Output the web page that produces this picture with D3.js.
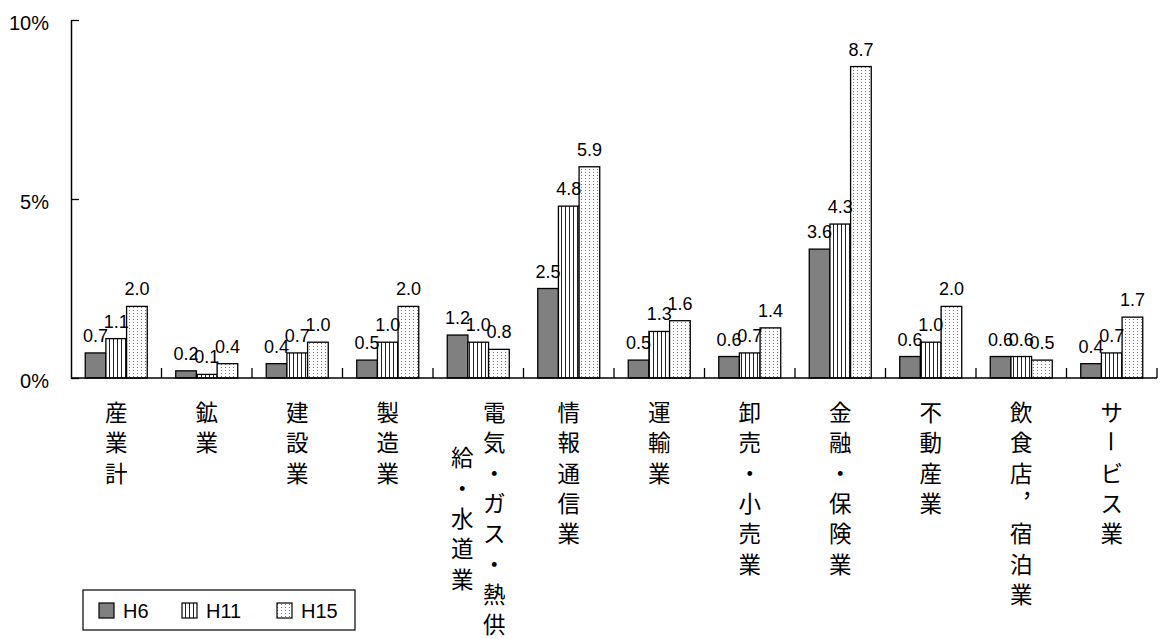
<!DOCTYPE html>
<meta charset="utf-8">
<head>
    <script type="text/javascript" src="https://d3js.org/d3.v7.min.js"></script>
    <style>
        body { margin: 0; background: white; }
        .num { font-family: "Liberation Sans", Arial, sans-serif; }
        .cat { font-family: "Noto Sans CJK JP", sans-serif; }
    </style>
    <title></title>
</head>
<body>
<script>

    var width = 1168
    var height = 639

    // data
    var categories = ["産業計", "鉱業", "建設業", "製造業", "電気・ガス・熱供給・水道業", "情報通信業",
        "運輸業", "卸売・小売業", "金融・保険業", "不動産業", "飲食店，宿泊業", "サービス業"]
    var series = ["H6", "H11", "H15"]
    var h6 = [0.7, 0.2, 0.4, 0.5, 1.2, 2.5, 0.5, 0.6, 3.6, 0.6, 0.6, 0.4]
    var h11 = [1.1, 0.1, 0.7, 1.0, 1.0, 4.8, 1.3, 0.7, 4.3, 1.0, 0.6, 0.7]
    var h15 = [2.0, 0.4, 1.0, 2.0, 0.8, 5.9, 1.6, 1.4, 8.7, 2.0, 0.5, 1.7]
    var yTicks = [0, 5, 10]

    var values = [h6, h11, h15]
    var fills = ["#808080", "url(#stripes)", "url(#dots)"]

    var svg = d3.select("body").append("svg")
        .attr("width", width)
        .attr("height", height)

    var defs = svg.append("defs")
    var stripes = defs.append("pattern")
        .attr("id", "stripes")
        .attr("patternUnits", "userSpaceOnUse")
        .attr("width", 4).attr("height", 4)
    stripes.append("rect").attr("width", 4).attr("height", 4).attr("fill", "white")
    stripes.append("rect").attr("x", 1).attr("width", 1).attr("height", 4).attr("fill", "#222")

    var dots = defs.append("pattern")
        .attr("id", "dots")
        .attr("patternUnits", "userSpaceOnUse")
        .attr("width", 4).attr("height", 3)
    dots.append("rect").attr("width", 4).attr("height", 3).attr("fill", "white")
    dots.append("rect").attr("x", 1).attr("y", 1).attr("width", 1).attr("height", 1).attr("fill", "#777")

    var x0 = d3.scaleBand()
        .domain(categories)
        .range([71, 1157])

    var groupWidth = 62
    var x1 = d3.scaleBand()
        .domain(series)
        .range([0, groupWidth])

    var y = d3.scaleLinear()
        .domain([0, 10])
        .range([378, 20])

    // bars
    var rows = []
    categories.forEach(function (c, i) {
        series.forEach(function (s, j) {
            rows.push({cat: c, s: s, j: j, v: values[j][i]})
        })
    })

    var offset = (x0.bandwidth() - groupWidth) / 2

    svg.append("g").selectAll("rect")
        .data(rows)
        .enter()
        .append("rect")
        .attr("x", d => x0(d.cat) + offset + x1(d.s))
        .attr("y", d => y(d.v))
        .attr("width", x1.bandwidth())
        .attr("height", d => y(0) - y(d.v))
        .attr("fill", d => fills[d.j])
        .attr("stroke", "black")
        .attr("stroke-width", 1.3)

    // data labels
    svg.append("g").selectAll("text")
        .data(rows)
        .enter()
        .append("text")
        .attr("class", "num")
        .attr("x", d => x0(d.cat) + offset + x1(d.s) + x1.bandwidth() / 2)
        .attr("y", d => y(d.v) - 11)
        .attr("text-anchor", "middle")
        .style("font-size", "18px")
        .text(d => d.v.toFixed(1))

    // y axis, ticks pointing inward
    var yAxis = d3.axisLeft(y)
        .tickValues(yTicks)
        .tickFormat(d => d + "%")
        .tickSizeInner(-8)
        .tickSizeOuter(0)
        .tickPadding(22)

    var gy = svg.append("g")
        .attr("transform", "translate(71,0)")
        .call(yAxis)
    gy.select(".domain").attr("stroke-width", 1.5)
    gy.selectAll(".tick line").attr("stroke-width", 1.3)
    gy.selectAll(".tick text")
        .attr("class", "num")
        .attr("dy", "0.45em")
        .style("font-size", "20px")
        .attr("fill", "black")

    // x axis line and boundary ticks
    svg.append("line")
        .attr("x1", x0.range()[0]).attr("x2", x0.range()[1])
        .attr("y1", y(0)).attr("y2", y(0))
        .attr("stroke", "black")
        .attr("stroke-width", 1.5)

    var bounds = categories.map(c => x0(c) + x0.bandwidth())
    svg.append("g").selectAll("line")
        .data(bounds)
        .enter()
        .append("line")
        .attr("x1", d => d).attr("x2", d => d)
        .attr("y1", y(0) - 10).attr("y2", y(0))
        .attr("stroke", "black")
        .attr("stroke-width", 1.3)

    // vertical category labels, 8 characters per column, columns right to left
    var pitch = 30.3
    var colGap = 32
    var labelTop = 411
    var catG = svg.append("g")

    categories.forEach(function (c) {
        var chars = Array.from(c)
        var cols = []
        for (var k = 0; k < chars.length; k += 8) cols.push(chars.slice(k, k + 8))
        var cx = x0(c) + x0.bandwidth() / 2
        var firstLen = cols[0].length
        cols.forEach(function (col, ci) {
            var colX = cx + (cols.length - 1) * colGap / 2 - ci * colGap
            var start = labelTop + (firstLen - col.length) * pitch / 2
            col.forEach(function (ch, k) {
                var cy = start + k * pitch
                var t = catG.append("text")
                    .attr("class", "cat")
                    .attr("x", colX)
                    .attr("y", cy)
                    .attr("text-anchor", "middle")
                    .attr("dominant-baseline", "central")
                    .style("font-size", "22.5px")
                if (ch === "ー") {
                    t.attr("transform", "rotate(90," + colX + "," + cy + ")").text(ch)
                } else if (ch === "，") {
                    t.text("\uFE10")
                } else {
                    t.text(ch)
                }
            })
        })
    })

    // legend
    var legend = svg.append("g")
    legend.append("rect")
        .attr("x", 83).attr("y", 590)
        .attr("width", 272).attr("height", 40)
        .attr("fill", "white")
        .attr("stroke", "black")
        .attr("stroke-width", 1.2)

    var legendX = [99, 182, 277]
    series.forEach(function (s, j) {
        legend.append("rect")
            .attr("x", legendX[j]).attr("y", 603)
            .attr("width", 15).attr("height", 15)
            .attr("fill", fills[j])
            .attr("stroke", "black")
            .attr("stroke-width", 1.2)
        legend.append("text")
            .attr("class", "num")
            .attr("x", legendX[j] + 24)
            .attr("y", 618)
            .style("font-size", "20px")
            .text(s)
    })

</script>
</body>
</html>
